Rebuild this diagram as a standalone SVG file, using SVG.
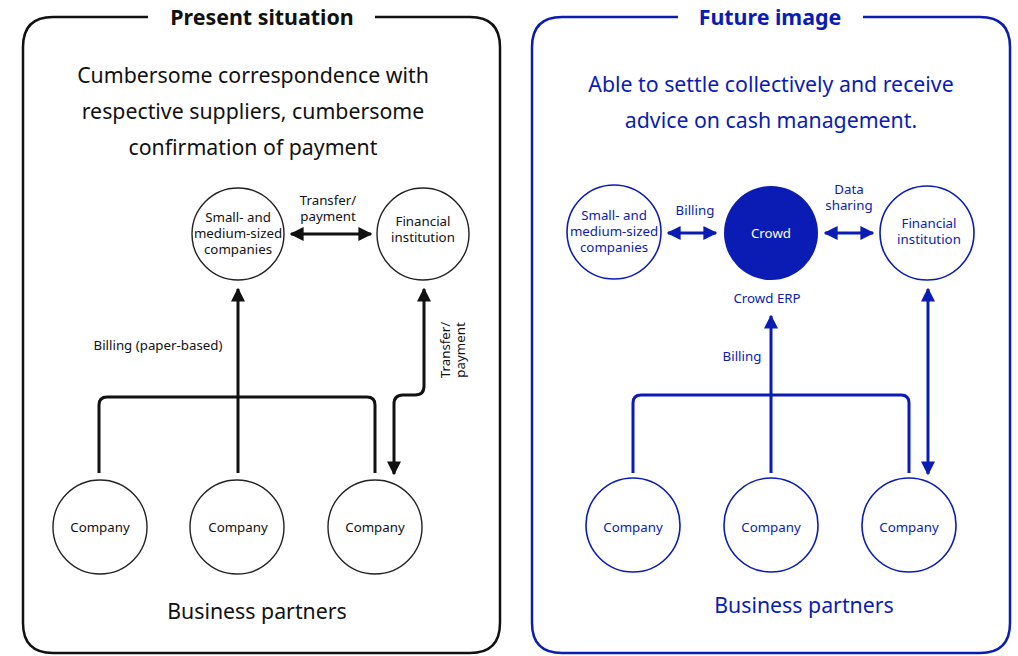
<svg xmlns="http://www.w3.org/2000/svg" width="1018" height="656" viewBox="0 0 1018 656">
<defs>
<style>
text{font-family:"Noto Sans","Open Sans","Liberation Sans",sans-serif;text-anchor:middle}
.k{fill:#111}
.b{fill:#0a1cb4}
.title{font-size:21.4px;font-weight:bold}
.big{font-size:21.3px}
.sm{font-size:13.3px}
.frameK{fill:none;stroke:#111;stroke-width:2.5}
.frameB{fill:none;stroke:#0a1cb4;stroke-width:2.5}
.nodeK{fill:#fff;stroke:#222;stroke-width:1.4}
.nodeB{fill:#fff;stroke:#0a1cb4;stroke-width:1.6}
.lk{fill:none;stroke:#111;stroke-width:3;stroke-linejoin:round}
.lb{fill:none;stroke:#0a1cb4;stroke-width:3;stroke-linejoin:round}
</style>
<marker id="ak" viewBox="0 0 10 10" refX="9" refY="5" markerWidth="14" markerHeight="14" markerUnits="userSpaceOnUse" orient="auto-start-reverse"><path d="M0,0 L10,5 L0,10 Z" fill="#111"/></marker>
<marker id="ab" viewBox="0 0 10 10" refX="9" refY="5" markerWidth="14" markerHeight="14" markerUnits="userSpaceOnUse" orient="auto-start-reverse"><path d="M0,0 L10,5 L0,10 Z" fill="#0a1cb4"/></marker>
</defs>
<rect width="1018" height="656" fill="#fff"/>

<g id="frame-present">
<path class="frameK" d="M148,17 H53 Q23,17 23,47 V623 Q23,653 53,653 H470 Q500,653 500,623 V47 Q500,17 470,17 H375"/>
<text class="k title" x="262" y="25">Present situation</text>
<text class="k big" x="253" y="83">Cumbersome correspondence with</text>
<text class="k big" x="253" y="119">respective suppliers, cumbersome</text>
<text class="k big" x="253" y="155">confirmation of payment</text>
<text class="k big" x="257" y="619">Business partners</text>
</g>

<g id="frame-future">
<path class="frameB" d="M678,17 H562 Q532,17 532,47 V623 Q532,653 562,653 H980 Q1010,653 1010,623 V47 Q1010,17 980,17 H863"/>
<text class="b title" x="770" y="25">Future image</text>
<text class="b big" x="771" y="92">Able to settle collectively and receive</text>
<text class="b big" x="771" y="128">advice on cash management.</text>
<text class="b big" x="804" y="613">Business partners</text>
</g>

<g id="connectors">
<path class="lk" d="M291,234 H371" marker-start="url(#ak)" marker-end="url(#ak)"/>
<path class="lk" d="M99,473 V405 Q99,397 107,397 H367 Q375,397 375,405 V473"/>
<path class="lk" d="M238,473 V289" marker-end="url(#ak)"/>
<path class="lk" d="M424,289 V386 Q424,395 415,395 H403 Q394,395 394,404 V474" marker-start="url(#ak)" marker-end="url(#ak)"/>
<text class="k sm" x="158" y="350">Billing (paper-based)</text>
<text class="k sm" x="328" y="205">Transfer/</text>
<text class="k sm" x="328" y="221">payment</text>
<text class="k sm" transform="translate(450,350) rotate(-90)">Transfer/</text>
<text class="k sm" transform="translate(465,350) rotate(-90)">payment</text>

<path class="lb" d="M668,233 H716" marker-start="url(#ab)" marker-end="url(#ab)"/>
<path class="lb" d="M825,233 H873" marker-start="url(#ab)" marker-end="url(#ab)"/>
<path class="lb" d="M633,473 V403 Q633,395 641,395 H901 Q909,395 909,403 V473"/>
<path class="lb" d="M771,473 V316" marker-end="url(#ab)"/>
<path class="lb" d="M928,289 V474" marker-start="url(#ab)" marker-end="url(#ab)"/>
<text class="b sm" x="695" y="215">Billing</text>
<text class="b sm" x="849" y="194">Data</text>
<text class="b sm" x="849" y="210">sharing</text>
<text class="b sm" x="767" y="303">Crowd ERP</text>
<text class="b sm" x="742" y="361">Billing</text>
</g>

<g id="sme-present">
<circle class="nodeK" cx="238" cy="234" r="46"/>
<text class="k sm" x="238" y="222">Small- and</text>
<text class="k sm" x="238" y="238">medium-sized</text>
<text class="k sm" x="238" y="254">companies</text>
</g>
<g id="fi-present">
<circle class="nodeK" cx="423" cy="234" r="46"/>
<text class="k sm" x="423" y="226">Financial</text>
<text class="k sm" x="423" y="242">institution</text>
</g>
<g id="company-p1"><circle class="nodeK" cx="100" cy="527" r="47"/><text class="k sm" x="100" y="532">Company</text></g>
<g id="company-p2"><circle class="nodeK" cx="237" cy="527" r="47"/><text class="k sm" x="238" y="532">Company</text></g>
<g id="company-p3"><circle class="nodeK" cx="375" cy="527" r="47"/><text class="k sm" x="375" y="532">Company</text></g>

<g id="sme-future">
<circle class="nodeB" cx="614" cy="232" r="47"/>
<text class="b sm" x="614" y="220">Small- and</text>
<text class="b sm" x="614" y="236">medium-sized</text>
<text class="b sm" x="614" y="252">companies</text>
</g>
<g id="crowd">
<circle cx="771" cy="233" r="47" fill="#0a1cb4"/>
<text class="sm" x="771" y="238" fill="#fff">Crowd</text>
</g>
<g id="fi-future">
<circle class="nodeB" cx="927" cy="233" r="47"/>
<text class="b sm" x="929" y="228">Financial</text>
<text class="b sm" x="929" y="244">institution</text>
</g>
<g id="company-f1"><circle class="nodeB" cx="633" cy="525" r="47"/><text class="b sm" x="633" y="532">Company</text></g>
<g id="company-f2"><circle class="nodeB" cx="771" cy="525" r="47"/><text class="b sm" x="771" y="532">Company</text></g>
<g id="company-f3"><circle class="nodeB" cx="909" cy="525" r="47"/><text class="b sm" x="909" y="532">Company</text></g>
</svg>
